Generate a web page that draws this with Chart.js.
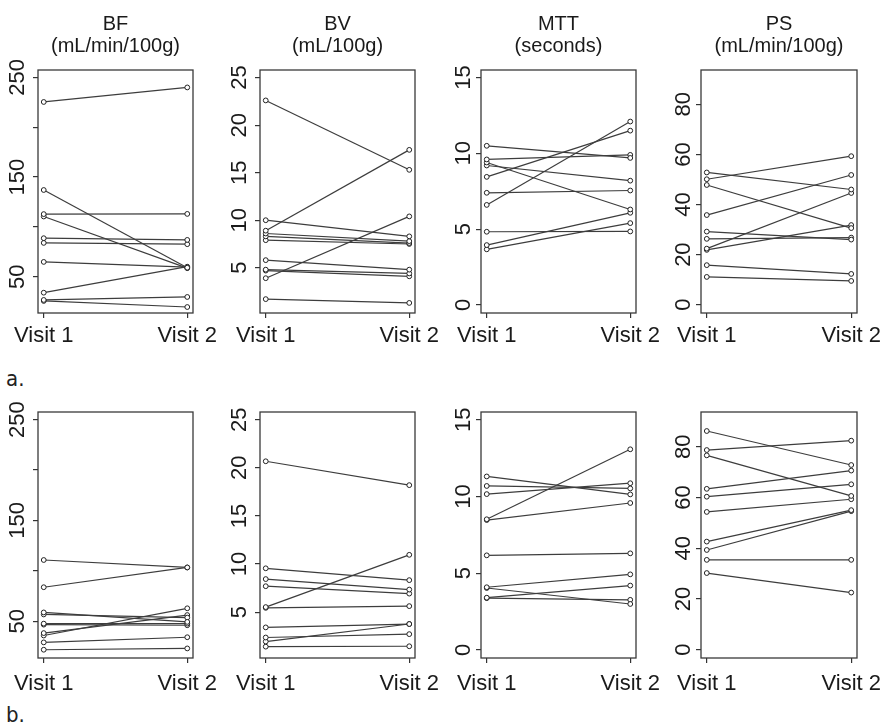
<!DOCTYPE html>
<html><head><meta charset="utf-8">
<script src="https://cdn.jsdelivr.net/npm/chart.js@4.4.0/dist/chart.umd.min.js"></script>
<style>
html,body{margin:0;padding:0;background:#fff;}
body{width:884px;height:726px;position:relative;overflow:hidden;}
canvas{position:absolute;}
.tag{position:absolute;left:6px;font-family:"Liberation Sans Narrow","DejaVu Sans Condensed",sans-serif;font-size:22px;line-height:22px;color:#222;}
</style></head><body>
<div class="tag" style="top:368px">a.</div>
<div class="tag" style="top:704px">b.</div>
<script>
// ---------- text ----------
const visitLabels = ['Visit 1', 'Visit 2'];
const bfTitle  = ['BF', '(mL/min/100g)'];
const bvTitle  = ['BV', '(mL/100g)'];
const mttTitle = ['MTT', '(seconds)'];
const psTitle  = ['PS', '(mL/min/100g)'];

// ---------- tick values / labels ----------
const bfTicks  = [50, 100, 150, 200, 250];
const bfTickLabels  = ['50', '', '150', '', '250'];
const bvTicks  = [5, 10, 15, 20, 25];
const bvTickLabels  = ['5', '10', '15', '20', '25'];
const mttTicks = [0, 5, 10, 15];
const mttTickLabels = ['0', '5', '10', '15'];
const psTicks  = [0, 20, 40, 60, 80];
const psTickLabels  = ['0', '20', '40', '60', '80'];

// ---------- data: panel a ----------
const bfA_visit1  = [225.4, 137.0, 112.8, 110.4, 88.6, 83.9, 64.8, 33.9, 26.6, 25.6];
const bfA_visit2  = [240.0, 59.0, 113.0, 58.5, 86.9, 82.6, 59.5, 60.0, 29.6, 19.5];
const bvA_visit1  = [22.6, 8.9, 10.0, 8.6, 8.3, 7.9, 5.8, 4.8, 4.7, 3.9, 1.7];
const bvA_visit2  = [15.3, 17.4, 8.3, 7.8, 7.6, 7.5, 4.8, 4.4, 4.1, 10.4, 1.3];
const mttA_visit1 = [10.5, 9.6, 9.4, 9.2, 8.45, 7.4, 6.6, 4.83, 3.95, 3.67];
const mttA_visit2 = [9.7, 9.9, 6.3, 8.2, 11.5, 7.55, 12.1, 4.85, 6.08, 5.4];
const psA_visit1  = [52.8, 50.1, 47.8, 35.8, 29.2, 26.3, 22.4, 21.9, 15.8, 11.1];
const psA_visit2  = [46.0, 59.3, 30.6, 51.8, 26.0, 26.8, 44.6, 31.8, 12.3, 9.5];

// ---------- data: panel b ----------
const bfB_visit1  = [110.7, 83.7, 58.7, 56.7, 47.6, 46.6, 38.2, 35.8, 29.0, 21.7];
const bfB_visit2  = [103.3, 103.3, 49.3, 53.6, 47.6, 46.0, 56.1, 62.8, 34.1, 23.0];
const bvB_visit1  = [20.68, 9.56, 8.44, 7.70, 5.53, 5.45, 3.42, 2.37, 1.95, 1.42];
const bvB_visit2  = [18.2, 8.33, 7.35, 6.93, 10.96, 5.63, 3.77, 2.72, 3.77, 1.46];
const mttB_visit1 = [11.30, 10.68, 10.15, 8.51, 8.46, 6.16, 4.08, 4.03, 3.40, 3.37];
const mttB_visit2 = [10.13, 10.52, 10.86, 13.07, 9.57, 6.29, 4.92, 2.99, 4.19, 3.26];
const psB_visit1  = [86.2, 78.7, 76.6, 63.4, 60.3, 54.3, 42.6, 39.3, 35.4, 30.2];
const psB_visit2  = [72.8, 82.4, 60.6, 70.6, 65.2, 59.3, 55.0, 54.6, 35.4, 22.5];

// ---------- layout ----------
const FONT = '"Liberation Sans", Arial, Helvetica, sans-serif';
Chart.defaults.font.family = FONT;
Chart.defaults.color = '#1a1a1a';
Chart.defaults.animation = false;

const SIDE = 45;
const cols = [
  {left: 38, right: 193, labelOff: 20.3},
  {left: 260, right: 415, labelOff: 19.8},
  {left: 481, right: 636, labelOff: 17.4},
  {left: 701, right: 857, labelOff: 17.2}
];
const rows = [
  {canvasTop: 0, canvasH: 360, padTop: 0, xAxisH: 47, xPad: 4.8, titled: true},
  {canvasTop: 360, canvasH: 340, padTop: 52, xAxisH: 42, xPad: 7.5, titled: false}
];
const scalesDef = [
  {min: 13.5, max: 257.5, ticks: bfTicks, labels: bfTickLabels, title: bfTitle},
  {min: 0.24, max: 25.8, ticks: bvTicks, labels: bvTickLabels, title: bvTitle},
  {min: -0.53, max: 15.5, ticks: mttTicks, labels: mttTickLabels, title: mttTitle},
  {min: -3.3, max: 93.7, ticks: psTicks, labels: psTickLabels, title: psTitle}
];
const panelData = [
  [[bfA_visit1, bfA_visit2], [bvA_visit1, bvA_visit2], [mttA_visit1, mttA_visit2], [psA_visit1, psA_visit2]],
  [[bfB_visit1, bfB_visit2], [bvB_visit1, bvB_visit2], [mttB_visit1, mttB_visit2], [psB_visit1, psB_visit2]]
];

const mctx = document.createElement('canvas').getContext('2d');
function textW(s, size) { mctx.font = size + 'px ' + FONT; return mctx.measureText(s).width; }

const frame = {
  id: 'frame',
  beforeDatasetsDraw(chart) {
    const a = chart.chartArea, c = chart.ctx;
    c.save();
    c.strokeStyle = '#3a3a3a';
    c.lineWidth = 1.3;
    c.strokeRect(a.left, a.top, a.right - a.left, a.bottom - a.top);
    c.restore();
  }
};

function makePanel(r, k) {
  const row = rows[r], col = cols[k], sd = scalesDef[k];
  const [v1, v2] = panelData[r][k];
  const W = col.right - col.left + 2 * SIDE;
  const H = row.canvasH;
  const cv = document.createElement('canvas');
  cv.width = W; cv.height = H;
  cv.style.left = (col.left - SIDE) + 'px';
  cv.style.top = row.canvasTop + 'px';
  cv.style.width = W + 'px'; cv.style.height = H + 'px';
  document.body.appendChild(cv);

  const widest = Math.max(...sd.labels.map(s => textW(s, 22)));
  const yPad = col.labelOff - 5 - widest / 2;

  const datasets = v1.map((a, i) => ({
    data: [{x: 1, y: a}, {x: 2, y: v2[i]}],
    borderColor: '#3d3d3d', borderWidth: 1.2,
    pointRadius: 2.4, pointBorderWidth: 1, pointBorderColor: '#222', pointBackgroundColor: '#fff',
    tension: 0, clip: false
  }));

  new Chart(cv, {
    type: 'line',
    data: {datasets},
    options: {
      responsive: false, devicePixelRatio: 1, animation: false, events: [],
      layout: {padding: {left: 5, right: 5, top: row.padTop, bottom: 0}},
      plugins: {
        legend: {display: false}, tooltip: {enabled: false},
        title: row.titled ? {display: true, text: sd.title, color: '#1a1a1a',
          font: {size: 20, weight: 'normal', lineHeight: 1.1}, padding: {top: 13, bottom: 13}} : {display: false}
      },
      scales: {
        x: {
          type: 'linear', min: 0.96, max: 2.04,
          afterBuildTicks: ax => { ax.ticks = [{value: 1}, {value: 2}]; },
          ticks: {callback: v => visitLabels[Math.round(v) - 1], font: {size: 22, lineHeight: 1.2}, color: '#1a1a1a',
            padding: row.xPad, maxRotation: 0, minRotation: 0, autoSkip: false},
          grid: {drawOnChartArea: false, drawTicks: true, tickLength: 5, color: '#333', lineWidth: 1.2},
          border: {display: false},
          afterFit: ax => { ax.height = row.xAxisH; }
        },
        y: {
          type: 'linear', position: 'left', min: sd.min, max: sd.max,
          afterBuildTicks: ax => { ax.ticks = sd.ticks.map(v => ({value: v})); },
          ticks: {callback: (v, i) => sd.labels[sd.ticks.indexOf(v)], font: {size: 22}, color: '#1a1a1a',
            padding: yPad, minRotation: 90, maxRotation: 90, crossAlign: 'center', autoSkip: false},
          grid: {drawOnChartArea: false, drawTicks: true, tickLength: 5, color: '#333', lineWidth: 1.2},
          border: {display: false},
          afterFit: ax => { ax.width = 40; }
        },
        yRight: {
          type: 'linear', position: 'right', display: true,
          ticks: {display: false}, grid: {display: false}, border: {display: false},
          afterFit: ax => { ax.width = 40; }
        }
      }
    },
    plugins: [frame]
  });
}

for (let r = 0; r < 2; r++) for (let k = 0; k < 4; k++) makePanel(r, k);
</script>
</body></html>
